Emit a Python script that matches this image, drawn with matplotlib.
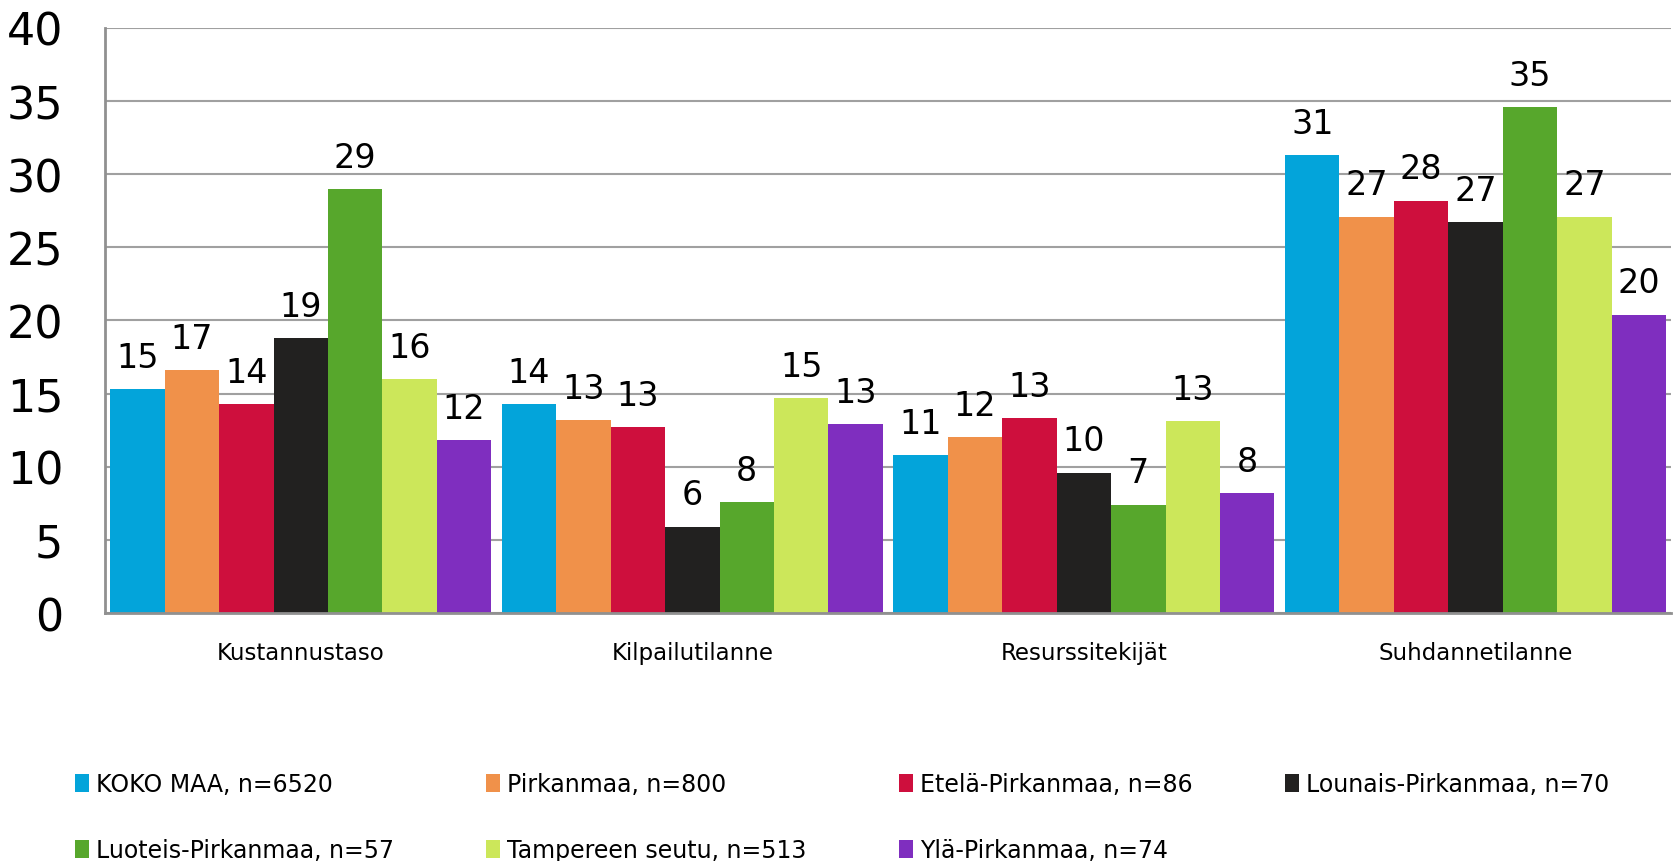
import matplotlib
matplotlib.use("Agg")
import matplotlib.pyplot as plt
import numpy as np

plt.rcParams['font.family'] = ['DejaVu Sans']

# data
categories = ["Kustannustaso", "Kilpailutilanne", "Resurssitekijät", "Suhdannetilanne"]
series = ["KOKO MAA, n=6520", "Pirkanmaa, n=800", "Etelä-Pirkanmaa, n=86",
          "Lounais-Pirkanmaa, n=70", "Luoteis-Pirkanmaa, n=57",
          "Tampereen seutu, n=513", "Ylä-Pirkanmaa, n=74"]
koko_maa = [15.3, 14.3, 10.8, 31.3]
pirkanmaa = [16.6, 13.2, 12.0, 27.1]
etela = [14.3, 12.7, 13.3, 28.2]
lounais = [18.8, 5.9, 9.6, 26.7]
luoteis = [29.0, 7.6, 7.4, 34.6]
tampere = [16.0, 14.7, 13.1, 27.1]
yla = [11.8, 12.9, 8.2, 20.4]
values = [koko_maa, pirkanmaa, etela, lounais, luoteis, tampere, yla]
colors = ["#03A4DA", "#F0914A", "#CE0F3D", "#222120", "#57A72C", "#CCE75A", "#7F2EBF"]

fig = plt.figure(figsize=(16.77, 8.62), dpi=100)
ax = fig.add_axes([0.0626, 0.2877, 0.934, 0.6787])

x = np.arange(len(categories))
w = 0.139
bars = []
for i, (vals, col) in enumerate(zip(values, colors)):
    b = ax.bar(x + (i - 3) * w, vals, w, color=col, label=series[i], zorder=3)
    ax.bar_label(b, labels=[f"{v:.0f}" for v in vals], padding=11, fontsize=24)
    bars.append(b)

ax.set_xlim(-0.5, 3.5)
ax.set_ylim(0, 40)
ax.set_yticks(range(0, 41, 5))
ax.set_xticks(x)
ax.set_xticklabels(categories, fontsize=16.5)
ax.tick_params(axis='y', length=0, labelsize=32, pad=30)
ax.tick_params(axis='x', length=0, pad=20)
ax.yaxis.grid(True, color="#a0a0a0", lw=1.5, zorder=0)
ax.spines['top'].set_visible(False)
ax.spines['right'].set_visible(False)
for s in ['left', 'bottom']:
    ax.spines[s].set_color("#909090")
    ax.spines[s].set_linewidth(2)
    ax.spines[s].set_zorder(4)

# row-major legend order for 4 columns
order = [0, 4, 1, 5, 2, 6, 3]
handles = [bars[i] for i in order]
labels = [series[i] for i in order]
fig.legend(handles, labels, ncol=4, loc='upper left', bbox_to_anchor=(0.032, 0.128),
           frameon=False, fontsize=17, handlelength=0.6, handleheight=0.8,
           handletextpad=0.3, columnspacing=3.9, labelspacing=1.8)

fig.savefig("out.png", dpi=100)
